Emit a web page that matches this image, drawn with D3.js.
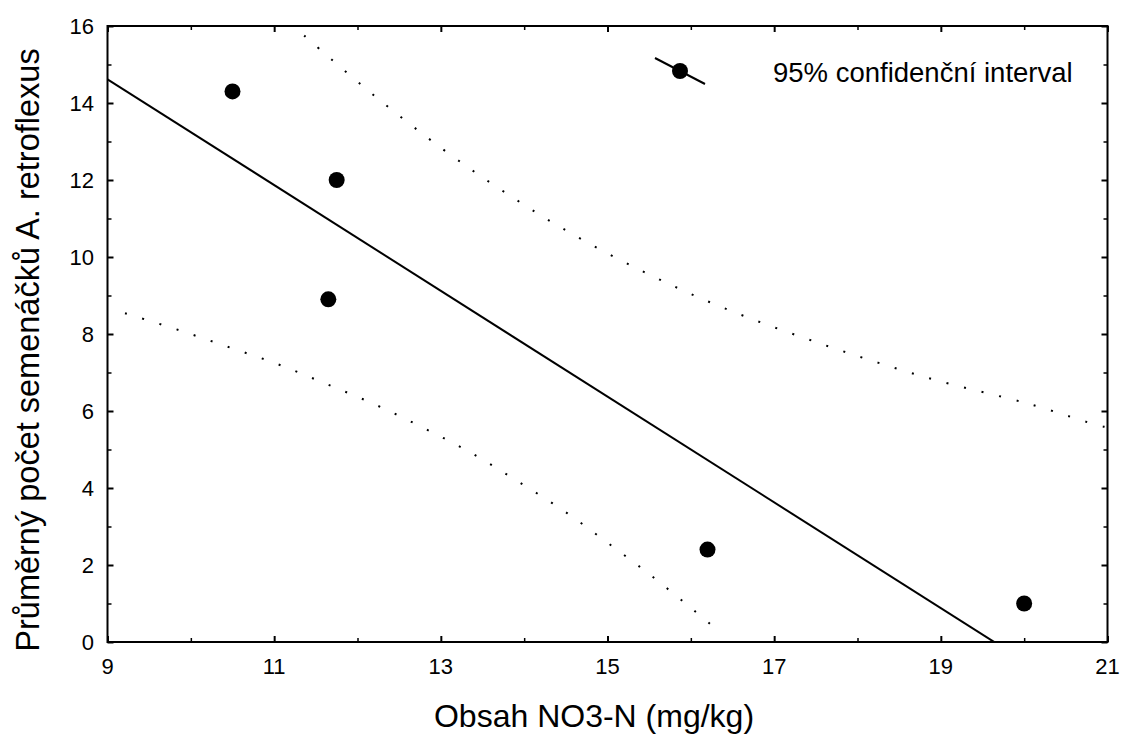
<!DOCTYPE html>
<html>
<head>
<meta charset="utf-8">
<script src="https://cdn.jsdelivr.net/npm/d3@7"></script>
<style>
  html, body { margin: 0; padding: 0; background: #fff; }
  svg { display: block; font-family: "Liberation Sans", Arial, sans-serif; }
</style>
</head>
<body>
<svg id="chart" width="1124" height="736"></svg>
<script>
// Measured nitrate content (mg/kg) and mean seedling count per plot
const nitrate = [10.5, 11.75, 11.65, 16.2, 20.0];
const seedlings = [14.3, 12.0, 8.9, 2.4, 1.0];

// 95% confidence band of the fit, upper and lower limits
const bandUpperX = [11.36, 12.18, 13.03, 13.74, 14.47, 15.42, 16.39, 17.61, 18.83, 20.08, 20.90, 21.0];
const bandUpperY = [15.75, 14.23, 12.79, 11.72, 10.73, 9.63, 8.68, 7.71, 6.87, 6.17, 5.62, 5.58];
const bandLowerX = [9.21, 9.83, 10.44, 11.05, 11.64, 12.24, 12.82, 13.39, 13.94, 14.48, 15.00, 15.52, 16.02, 16.35];
const bandLowerY = [8.54, 8.12, 7.67, 7.21, 6.69, 6.14, 5.53, 4.88, 4.15, 3.40, 2.58, 1.73, 0.85, 0.25];

const xTicks = [9, 11, 13, 15, 17, 19, 21];
const xMinorTicks = [10, 12, 14, 16, 18, 20];
const yTicks = [0, 2, 4, 6, 8, 10, 12, 14, 16];
const yMinorTicks = [1, 3, 5, 7, 9, 11, 13, 15];

const xTitle = "Obsah NO3-N (mg/kg)";
const yTitle = "Průměrný počet semenáčků A. retroflexus";
const legendLabel = "95% confidenční interval";

const svg = d3.select("#chart");
const m = { left: 107.5, right: 1107.5, top: 26, bottom: 642 };

const x = d3.scaleLinear().domain([9, 21]).range([m.left, m.right]);
const y = d3.scaleLinear().domain([0, 16]).range([m.bottom, m.top]);

// Least-squares regression line
const mx = d3.mean(nitrate), my = d3.mean(seedlings);
const sxx = d3.sum(nitrate, v => (v - mx) ** 2);
const sxy = d3.sum(nitrate, (v, i) => (v - mx) * (seedlings[i] - my));
const slope = sxy / sxx;
const icept = my - slope * mx;
const fit = v => icept + slope * v;

svg.append("defs").append("clipPath").attr("id", "plotClip")
  .append("rect")
  .attr("x", m.left).attr("y", m.top)
  .attr("width", m.right - m.left).attr("height", m.bottom - m.top);

const plot = svg.append("g").attr("clip-path", "url(#plotClip)");

const band = d3.line().x(d => x(d[0])).y(d => y(d[1])).curve(d3.curveCatmullRom);
[[bandUpperX, bandUpperY], [bandLowerX, bandLowerY]].forEach(([bx, by]) => {
  plot.append("path")
    .attr("d", band(bx.map((v, i) => [v, by[i]])))
    .attr("fill", "none").attr("stroke", "#000")
    .attr("stroke-width", 2).attr("stroke-dasharray", "2,16");
});

plot.append("path")
  .attr("d", d3.line().x(v => x(v)).y(v => y(fit(v)))([9, 21]))
  .attr("fill", "none").attr("stroke", "#000").attr("stroke-width", 2);

plot.selectAll("circle.pt")
  .data(nitrate.map((v, i) => [v, seedlings[i]]))
  .join("circle")
  .attr("class", "pt")
  .attr("cx", d => x(d[0])).attr("cy", d => y(d[1]))
  .attr("r", 8).attr("fill", "#000");

// Axes on all four sides, ticks pointing inward
function tickAxis(axisFn, scale, values, size, width, transform) {
  const g = svg.append("g").attr("transform", transform)
    .call(axisFn(scale).tickValues(values).tickSize(-size).tickFormat(""));
  g.select(".domain").remove();
  g.selectAll(".tick line").attr("stroke", "#000").attr("stroke-width", width);
  return g;
}
tickAxis(d3.axisBottom, x, xTicks, 6, 2, `translate(0,${m.bottom})`);
tickAxis(d3.axisBottom, x, xMinorTicks, 4, 1.5, `translate(0,${m.bottom})`);
tickAxis(d3.axisTop, x, xTicks, 6, 2, `translate(0,${m.top})`);
tickAxis(d3.axisTop, x, xMinorTicks, 4, 1.5, `translate(0,${m.top})`);
tickAxis(d3.axisLeft, y, yTicks, 6, 2, `translate(${m.left},0)`);
tickAxis(d3.axisLeft, y, yMinorTicks, 4, 1.5, `translate(${m.left},0)`);
tickAxis(d3.axisRight, y, yTicks, 6, 2, `translate(${m.right},0)`);
tickAxis(d3.axisRight, y, yMinorTicks, 4, 1.5, `translate(${m.right},0)`);

svg.append("rect")
  .attr("x", m.left).attr("y", m.top)
  .attr("width", m.right - m.left).attr("height", m.bottom - m.top)
  .attr("fill", "none").attr("stroke", "#000").attr("stroke-width", 2);

// Tick labels
svg.append("g").selectAll("text")
  .data(xTicks).join("text")
  .attr("x", d => x(d)).attr("y", 674)
  .attr("text-anchor", "middle").attr("font-size", 22)
  .text(d => d);
svg.append("g").selectAll("text")
  .data(yTicks).join("text")
  .attr("x", 94).attr("y", d => y(d) + 8)
  .attr("text-anchor", "end").attr("font-size", 22)
  .text(d => d);

// Axis titles
svg.append("text")
  .attr("x", 594).attr("y", 727)
  .attr("text-anchor", "middle").attr("font-size", 32)
  .text(xTitle);
svg.append("text")
  .attr("transform", "translate(39,350) rotate(-90)")
  .attr("text-anchor", "middle").attr("font-size", 32.5)
  .text(yTitle);

// Legend
const lg = svg.append("g").attr("transform", "translate(680,71)");
lg.append("line")
  .attr("x1", -25).attr("y1", -13).attr("x2", 25).attr("y2", 13)
  .attr("stroke", "#000").attr("stroke-width", 2);
lg.append("circle").attr("r", 8).attr("fill", "#000");
lg.append("text")
  .attr("x", 93).attr("y", 11)
  .attr("font-size", 27.5)
  .text(legendLabel);
</script>
</body>
</html>
